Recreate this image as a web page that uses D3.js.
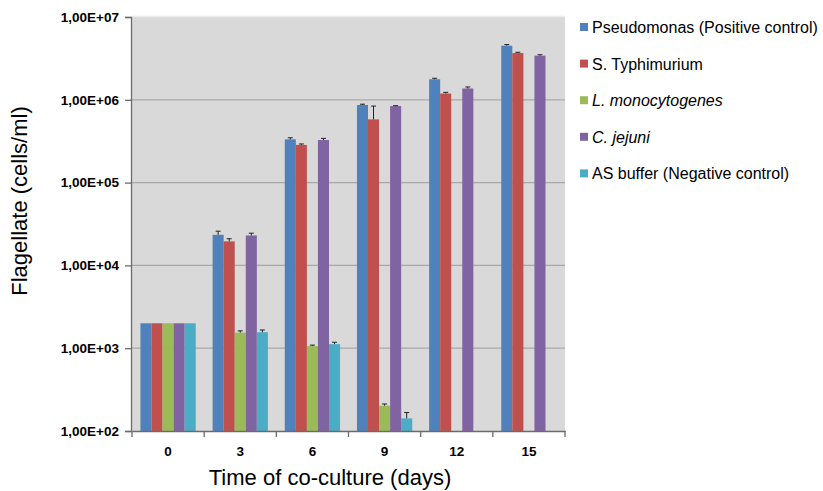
<!DOCTYPE html>
<head>
  <meta charset="utf-8">
  <script src="https://d3js.org/d3.v7.min.js"></script>
<style>
    body {
        margin: 0;
        background: #fff;
    }
    text {
        font-family: Arial, "Liberation Sans", sans-serif;
    }
    .tick-lab {
        font-size: 13.5px;
        font-weight: bold;
        fill: #000;
    }
    .legend text {
        font-size: 16px;
        fill: #000;
    }
</style>
</head>

<body>
  <script>

// days of co-culture
var days = ["0", "3", "6", "9", "12", "15"];

var seriesNames = ["Pseudomonas (Positive control)", "S. Typhimurium", "L. monocytogenes", "C. jejuni", "AS buffer (Negative control)"];
var seriesColors = ["#4f81bd", "#c0504d", "#9bbb59", "#8064a2", "#4bacc6"];
var italicNames = [false, false, true, true, false];

// cells/ml, one array per series (null = not measured)
var pseudomonas = [2000, 23400, 333000, 865000, 1770000, 4500000];
var typhimurium = [2000, 19500, 285000, 580000, 1190000, 3670000];
var monocytogenes = [2000, 1540, 1060, 202, null, null];
var jejuni = [2000, 23000, 327000, 840000, 1370000, 3410000];
var asBuffer = [2000, 1560, 1120, 142, null, null];

// error bars (+/-)
var errPseudomonas = [0, 2500, 15000, 20000, 50000, 150000];
var errTyphimurium = [0, 1500, 8000, 260000, 40000, 80000];
var errMonocytogenes = [0, 80, 30, 10, null, null];
var errJejuni = [0, 1500, 15000, 10000, 60000, 90000];
var errAsBuffer = [0, 100, 60, 25, null, null];

var yTicks = [1e2, 1e3, 1e4, 1e5, 1e6, 1e7];
var yTickLabels = ["1,00E+02", "1,00E+03", "1,00E+04", "1,00E+05", "1,00E+06", "1,00E+07"];

var allValues = [pseudomonas, typhimurium, monocytogenes, jejuni, asBuffer];
var allErrors = [errPseudomonas, errTyphimurium, errMonocytogenes, errJejuni, errAsBuffer];

var width = 823;
var height = 491;
var plotLeft = 131, plotRight = 565, plotTop = 17, plotBottom = 431;

var svg = d3.select("body")
    .append("svg")
    .attr("width", width)
    .attr("height", height);

var x0 = d3.scaleBand()
    .domain(days)
    .range([plotLeft + 1, plotRight])
    .paddingInner(0.234)
    .paddingOuter(0.117);

var x1 = d3.scaleBand()
    .domain(d3.range(seriesNames.length))
    .range([0, x0.bandwidth()]);

var y = d3.scaleLog()
    .domain([1e2, 1e7])
    .range([plotBottom, plotTop]);

// plot background
svg.append("rect")
    .attr("x", plotLeft)
    .attr("y", plotTop)
    .attr("width", plotRight - plotLeft)
    .attr("height", plotBottom - plotTop)
    .attr("fill", "#d9d9d9");

svg.append("line")
    .attr("x1", plotLeft).attr("x2", plotRight)
    .attr("y1", plotTop - 0.5).attr("y2", plotTop - 0.5)
    .attr("stroke", "#ececec")
    .attr("stroke-width", 1.5);

// gridlines
svg.selectAll(".grid")
    .data(yTicks.slice(1, -1))
    .enter()
    .append("line")
    .attr("class", "grid")
    .attr("x1", plotLeft).attr("x2", plotRight)
    .attr("y1", function (d) { return y(d); })
    .attr("y2", function (d) { return y(d); })
    .attr("stroke", "#a8a8a8")
    .attr("stroke-width", 1.3);

// bars
var rows = [];
days.forEach(function (day, i) {
    allValues.forEach(function (vals, s) {
        if (vals[i] != null) {
            rows.push({day: day, s: s, v: vals[i], e: allErrors[s][i]});
        }
    });
});

svg.selectAll(".bar")
    .data(rows)
    .enter()
    .append("rect")
    .attr("class", "bar")
    .attr("x", function (d) { return x0(d.day) + x1(d.s); })
    .attr("width", x1.bandwidth())
    .attr("y", function (d) { return y(d.v); })
    .attr("height", function (d) { return plotBottom - y(d.v); })
    .attr("fill", function (d) { return seriesColors[d.s]; });

// error bars (only the upper half shows above the bar)
function midX(d) {
    return x0(d.day) + x1(d.s) + x1.bandwidth() / 2;
}

var eb = svg.selectAll(".err")
    .data(rows.filter(function (d) { return d.e > 0; }))
    .enter()
    .append("g")
    .attr("class", "err")
    .attr("stroke", "#222")
    .attr("stroke-width", 1);

eb.append("line")
    .attr("x1", midX)
    .attr("x2", midX)
    .attr("y1", function (d) { return y(d.v + d.e); })
    .attr("y2", function (d) { return y(d.v); });

eb.append("line")
    .attr("x1", function (d) { return midX(d) - 2.5; })
    .attr("x2", function (d) { return midX(d) + 2.5; })
    .attr("y1", function (d) { return y(d.v + d.e); })
    .attr("y2", function (d) { return y(d.v + d.e); });

// axes
var yAxis = d3.axisLeft(y)
    .tickValues(yTicks)
    .tickFormat(function (d, i) { return yTickLabels[i]; })
    .tickSize(6)
    .tickPadding(6);

var gy = svg.append("g")
    .attr("transform", "translate(" + plotLeft + ",0)")
    .call(yAxis);

var xAxis = d3.axisBottom(x0)
    .tickSize(0)
    .tickPadding(15);

var gx = svg.append("g")
    .attr("transform", "translate(0," + plotBottom + ")")
    .call(xAxis);

// category boundary ticks on the x axis
var bounds = days.map(function (d) { return x0(d) - x0.step() * x0.paddingOuter(); });
bounds.push(plotRight);
gx.selectAll(".bound")
    .data(bounds)
    .enter()
    .append("line")
    .attr("class", "bound")
    .attr("x1", function (d) { return d; })
    .attr("x2", function (d) { return d; })
    .attr("y1", 0)
    .attr("y2", 6)
    .attr("stroke", "#6b6b6b")
    .attr("stroke-width", 1.3);

[gx, gy].forEach(function (g) {
    g.attr("font-family", null).attr("font-size", null);
    g.selectAll(".domain").attr("stroke", "#6b6b6b").attr("stroke-width", 1.3);
    g.selectAll(".tick line").attr("stroke", "#6b6b6b").attr("stroke-width", 1.3);
    g.selectAll(".tick text").attr("class", "tick-lab");
});

// axis titles
svg.append("text")
    .attr("transform", "translate(27,201) rotate(-90)")
    .attr("text-anchor", "middle")
    .style("font-size", "22px")
    .text("Flagellate  (cells/ml)");

svg.append("text")
    .attr("x", 330)
    .attr("y", 485)
    .attr("text-anchor", "middle")
    .style("font-size", "22px")
    .text("Time of co-culture (days)");

// legend
var legend = svg.append("g")
    .attr("class", "legend")
    .selectAll("g")
    .data(seriesNames)
    .enter()
    .append("g")
    .attr("transform", function (d, i) { return "translate(580," + (27 + i * 36.6) + ")"; });

legend.append("rect")
    .attr("x", 0)
    .attr("y", -4)
    .attr("width", 8)
    .attr("height", 8)
    .attr("fill", function (d, i) { return seriesColors[i]; });

legend.append("text")
    .attr("x", 12)
    .attr("y", 6)
    .style("font-style", function (d, i) { return italicNames[i] ? "italic" : "normal"; })
    .text(function (d) { return d; });

  </script>
</body>
